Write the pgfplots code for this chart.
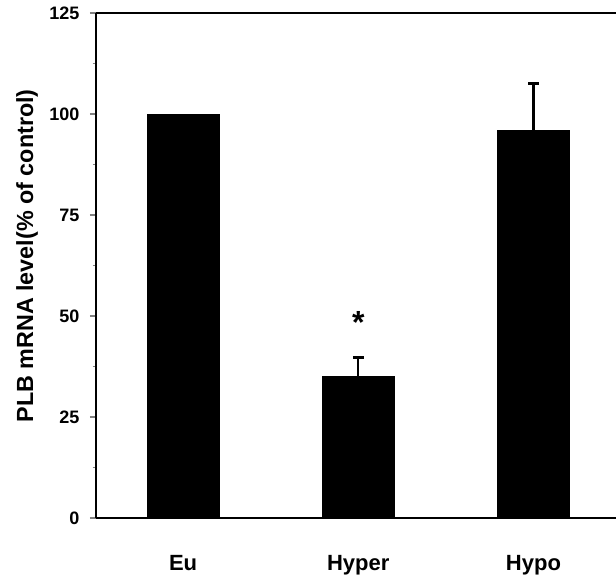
\documentclass[border=0pt]{standalone}
\usepackage{fontspec}
\setmainfont{Liberation Sans}
\usepackage{pgfplots}
\pgfplotsset{compat=1.18}
\begin{document}
\begin{tikzpicture}
\path[use as bounding box] (-72pt,-42pt) rectangle (390pt,388.5pt);
\begin{axis}[
  at={(0,0)}, anchor=south west, scale only axis,
  width=390pt, height=378.75pt,
  xmin=-0.497, xmax=2.471, ymin=0, ymax=125,
  axis x line=bottom, axis y line=left,
  axis line style={-, line width=1.5pt},
  xtick={0,1,2}, xticklabels={Eu,Hyper,Hypo},
  x tick style={draw=none},
  xticklabel style={font=\fontsize{16.5}{17}\selectfont\bfseries, anchor=base, inner sep=0pt, yshift=-34.5pt},
  extra x ticks={0.5,1.5}, extra x tick labels={},
  extra x tick style={tick align=inside, major tick length=4pt, tick style={draw=black, line width=1pt}},
  ytick={0,25,50,75,100,125}, minor y tick num=1,
  y tick style={line width=1.2pt},
  tick align=outside, major tick length=4.5pt, minor tick length=2.5pt,
  yticklabel style={font=\fontsize{13.5}{14}\selectfont\bfseries, /pgf/number format/assume math mode=true, anchor=east, xshift=-4.5pt},
  clip=false,
]
\draw[line width=1.5pt] (rel axis cs:0,1) -- (rel axis cs:1,1);
% Eu (no error bar)
\addplot[ybar, bar width=0.41, fill=black, draw=black] coordinates {(0,100)};
% Hyper and Hypo with SE
\addplot[ybar, bar width=0.41, fill=black, draw=black,
  error bars/.cd, y dir=plus, y explicit,
  error bar style={line width=1.8pt},
  error mark=-,
  error mark options={rotate=90, line width=2.4pt, mark size=4pt}]
  coordinates {(1,35) +- (0,4.8) (2,96) +- (0,11.6)};
\node[font=\fontsize{24}{24}\selectfont\bfseries] at (axis cs:1,48.5) {*};
\node[xshift=-51.75pt, rotate=90, font=\fontsize{17.5}{18}\selectfont\bfseries]
  at (rel axis cs:0,0.519) {PLB mRNA level(\% of control)};
\end{axis}
\end{tikzpicture}
\end{document}
